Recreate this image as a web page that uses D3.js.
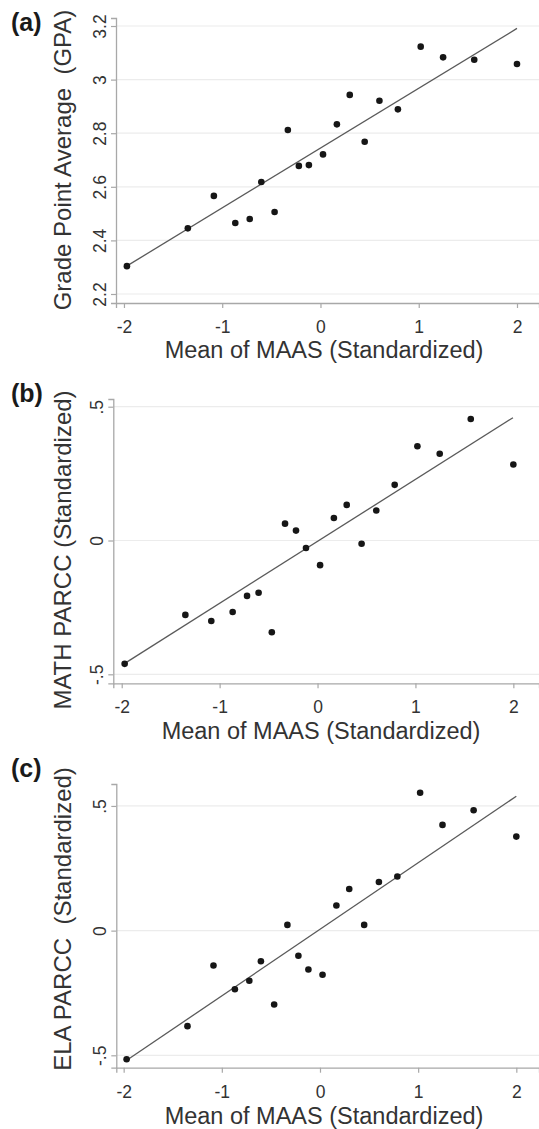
<!DOCTYPE html>
<html>
<head>
<meta charset="utf-8">
<script src="https://cdn.jsdelivr.net/npm/d3@7"></script>
<style>
  body { margin: 0; background: #fff; }
  svg { display: block; font-family: "Liberation Sans", Arial, Helvetica, sans-serif; }
</style>
</head>
<body>
<script>
// Mean of MAAS (standardized), one value per group, shared by the three panels
const maas = [-1.97, -1.35, -1.085, -0.867, -0.72, -0.602, -0.467, -0.332, -0.22, -0.118,
  0.026, 0.167, 0.298, 0.45, 0.6, 0.788, 1.02, 1.248, 1.565, 2.0];

const gpa = [2.304, 2.445, 2.566, 2.465, 2.480, 2.618, 2.506, 2.812, 2.678, 2.681,
  2.721, 2.833, 2.943, 2.768, 2.921, 2.889, 3.123, 3.083, 3.074, 3.058];
const mathParcc = [-0.461, -0.278, -0.301, -0.267, -0.207, -0.195, -0.343, 0.063, 0.037, -0.028,
  -0.092, 0.084, 0.133, -0.012, 0.112, 0.208, 0.352, 0.324, 0.454, 0.284];
const elaParcc = [-0.516, -0.383, -0.14, -0.235, -0.201, -0.123, -0.296, 0.023, -0.101, -0.156,
  -0.177, 0.101, 0.167, 0.023, 0.195, 0.217, 0.553, 0.424, 0.483, 0.377];

// fitted line end points [x0, y0, x1, y1]
const fitA = [-1.973, 2.304, 2.0, 3.191];
const fitB = [-1.973, -0.46, 1.996, 0.459];
const fitC = [-1.965, -0.519, 2.0, 0.539];

const xTicks = [-2, -1, 0, 1, 2];
const yTicksA = [2.2, 2.4, 2.6, 2.8, 3, 3.2];
const yTicksB = [-0.5, 0, 0.5];
const yTicksC = [-0.5, 0, 0.5];

const xTitle = "Mean of MAAS (Standardized)";

const W = 539, H = 1129;
const svg = d3.select("body").append("svg").attr("width", W).attr("height", H);

// Stata style: ".5" and "-.5"
const fmtShort = d => d === 0 ? "0" : (d < 0 ? "-" : "") + "." + String(Math.abs(d)).split(".")[1];

const panels = [
  { label: "(a)", ys: gpa, fit: fitA, yTicks: yTicksA, yTitle: "Grade Point Average  (GPA)",
    yFmt: d => String(d), left: 116, right: 539, top: 18, bottom: 303,
    xDom: [-2.081, 2.224], yDom: [2.1664, 3.2299], labelY: 31, yTitleY: 160, tickY: 333, titleX: 324, titleY: 358 },
  { label: "(b)", ys: mathParcc, fit: fitB, yTicks: yTicksB, yTitle: "MATH PARCC (Standardized)",
    yFmt: fmtShort, left: 113.3, right: 539, top: 399, bottom: 683.3,
    xDom: [-2.086, 2.262], yDom: [-0.5336, 0.5288], labelY: 402, yTitleY: 550, tickY: 713, titleX: 321, titleY: 739 },
  { label: "(c)", ys: elaParcc, fit: fitC, yTicks: yTicksC, yTitle: "ELA PARCC  (Standardized)",
    yFmt: fmtShort, left: 116.3, right: 539, top: 784, bottom: 1067.7,
    xDom: [-2.075, 2.231], yDom: [-0.5497, 0.588], labelY: 777, yTitleY: 919, tickY: 1098, titleX: 324, titleY: 1124 }
];

panels.forEach(p => {
  const x = d3.scaleLinear().domain(p.xDom).range([p.left, p.right]);
  const y = d3.scaleLinear().domain(p.yDom).range([p.bottom, p.top]);
  const g = svg.append("g");

  // grid lines
  g.append("g")
    .selectAll("line")
    .data(p.yTicks)
    .join("line")
    .attr("x1", p.left).attr("x2", p.right)
    .attr("y1", d => y(d)).attr("y2", d => y(d))
    .attr("stroke", "#ececec").attr("stroke-width", 1.2);

  // y axis
  const ya = g.append("g")
    .attr("transform", `translate(${p.left},0)`)
    .call(d3.axisLeft(y).tickValues(p.yTicks).tickFormat(p.yFmt).tickSizeOuter(0).tickSize(5));
  ya.select(".domain").attr("stroke", "#a8a8a8").attr("stroke-width", 1.3);
  ya.selectAll(".tick line").attr("stroke", "#a8a8a8").attr("stroke-width", 1.2);
  ya.selectAll(".tick text")
    .attr("font-size", 17.5).attr("fill", "#333")
    .attr("x", null).attr("dy", null)
    .attr("text-anchor", "middle")
    .attr("transform", "translate(-10,0) rotate(-90)");

  // x axis
  const xa = g.append("g")
    .attr("transform", `translate(0,${p.bottom})`)
    .call(d3.axisBottom(x).tickValues(xTicks).tickFormat(d => String(d)).tickSizeOuter(0).tickSize(5));
  xa.select(".domain").attr("stroke", "#a8a8a8").attr("stroke-width", 1.3);
  xa.selectAll(".tick line").attr("stroke", "#a8a8a8").attr("stroke-width", 1.2);
  xa.selectAll(".tick text")
    .attr("font-size", 17.5).attr("fill", "#333")
    .attr("dy", null)
    .attr("y", p.tickY - p.bottom);

  // fitted line
  g.append("line")
    .attr("x1", x(p.fit[0])).attr("y1", y(p.fit[1]))
    .attr("x2", x(p.fit[2])).attr("y2", y(p.fit[3]))
    .attr("stroke", "#5a5a5a").attr("stroke-width", 1.3);

  // points
  g.append("g")
    .selectAll("circle")
    .data(maas.map((m, i) => ({ m, v: p.ys[i] })))
    .join("circle")
    .attr("cx", d => x(d.m))
    .attr("cy", d => y(d.v))
    .attr("r", 3.3)
    .attr("fill", "#161616");

  // titles
  g.append("text")
    .attr("x", p.titleX).attr("y", p.titleY)
    .attr("text-anchor", "middle")
    .attr("font-size", 23.5).attr("fill", "#333")
    .text(xTitle);

  g.append("text")
    .attr("transform", `translate(71,${p.yTitleY}) rotate(-90)`)
    .attr("text-anchor", "middle")
    .style("white-space", "pre")
    .attr("font-size", 24).attr("fill", "#333")
    .text(p.yTitle);

  g.append("text")
    .attr("x", 11).attr("y", p.labelY)
    .attr("font-size", 25).attr("font-weight", "bold").attr("fill", "#1a1a1a")
    .text(p.label);
});
</script>
</body>
</html>
